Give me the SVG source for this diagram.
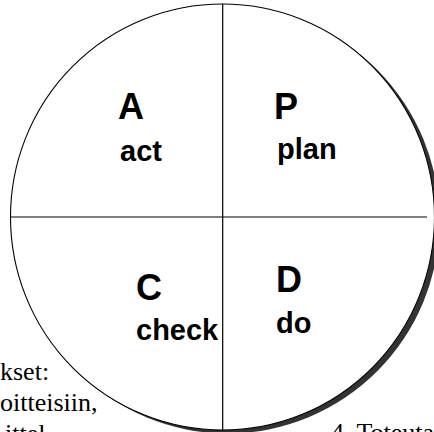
<svg xmlns="http://www.w3.org/2000/svg" width="434" height="432" viewBox="0 0 434 432">
<style>
.big{font-family:"Liberation Sans",Arial,sans-serif;font-weight:bold;font-size:36px;fill:#000}
.word{font-family:"Liberation Sans",Arial,sans-serif;font-weight:bold;font-size:29px;fill:#000}
.body{font-family:"Liberation Serif","Times New Roman",serif;font-size:26px;fill:#000}
.ln{stroke:#000;stroke-width:1.2;fill:none}
</style>
<rect width="434" height="432" fill="#fff"/>
<g id="circle">
<ellipse cx="227.5" cy="220.5" rx="212" ry="213" fill="#333"/>
<ellipse cx="222.5" cy="217" rx="212" ry="213" fill="#fff" stroke="#000" stroke-width="1.1"/>
</g>
<g id="dividers">
<line class="ln" x1="222.7" y1="4" x2="222.7" y2="430"/>
<line class="ln" x1="10.5" y1="217" x2="427" y2="217"/>
</g>
<g id="act"><text class="big" x="118" y="119">A</text><text class="word" x="120" y="161">act</text></g>
<g id="plan"><text class="big" x="274" y="119">P</text><text class="word" x="277" y="159">plan</text></g>
<g id="check"><text class="big" x="136" y="300">C</text><text class="word" x="136" y="340">check</text></g>
<g id="do"><text class="big" x="276" y="292">D</text><text class="word" x="276" y="333">do</text></g>
<g id="notes">
<text class="body" x="0" y="380">kset:</text>
<text class="body" x="0" y="411">oitteisiin,</text>
<text class="body" x="5" y="442">ittel</text>
<text class="body" x="331" y="441">4. Toteuta</text>
</g>
</svg>
